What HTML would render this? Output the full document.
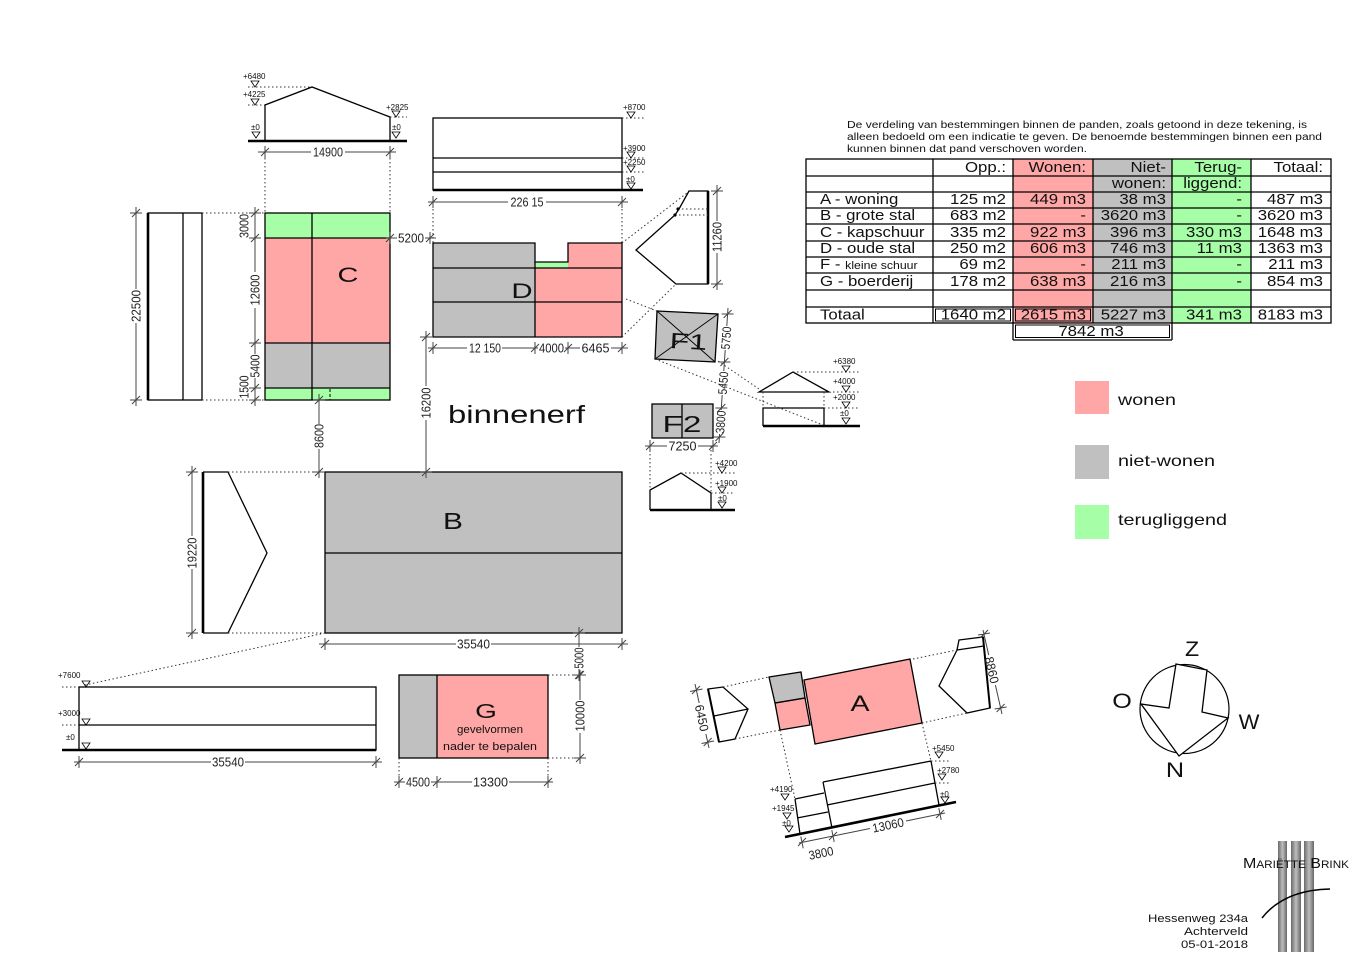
<!DOCTYPE html>
<html><head><meta charset="utf-8"><style>
html,body{margin:0;padding:0;background:#fff;}
svg{display:block;}
text{font-family:"Liberation Sans",Arial,sans-serif;}
.dm{font-size:12.5px;fill:#222;}
.lv{font-size:8px;fill:#111;}
.tb{font-size:15px;fill:#111;}
</style></head><body>
<svg width="1368" height="963" viewBox="0 0 1368 963" xmlns="http://www.w3.org/2000/svg">
<defs>
<linearGradient id="bar" x1="0" x2="1" y1="0" y2="0"><stop offset="0" stop-color="#6a6a6a"/><stop offset="0.5" stop-color="#bdbdbd"/><stop offset="1" stop-color="#666"/></linearGradient>
</defs>
<rect width="1368" height="963" fill="#fff"/>

<!-- ===== fills ===== -->
<!-- C plan -->
<rect x="265" y="213" width="125" height="25" fill="#a6ffa6"/>
<rect x="265" y="238" width="125" height="105" fill="#ffa6a6"/>
<rect x="265" y="343" width="125" height="45" fill="#c0c0c0"/>
<rect x="265" y="388" width="125" height="12" fill="#a6ffa6"/>
<!-- D plan -->
<rect x="433" y="243" width="102" height="94" fill="#c0c0c0"/>
<polygon points="535,262 568,262 568,243 622,243 622,337 535,337" fill="#ffa6a6"/>
<rect x="535" y="262" width="33" height="6" fill="#a6ffa6"/>
<!-- F1 F2 -->
<polygon points="657,311 718,314 715,362 655,359" fill="#c0c0c0"/>
<rect x="652" y="404" width="61" height="34" fill="#c0c0c0"/>
<!-- B -->
<rect x="325" y="472" width="297" height="161" fill="#c0c0c0"/>
<!-- G -->
<rect x="399" y="675" width="38" height="83" fill="#c0c0c0"/>
<rect x="437" y="675" width="111" height="83" fill="#ffa6a6"/>
<!-- A -->
<polygon points="804,680 910,659 922,723 815,744" fill="#ffa6a6"/>
<polygon points="769,677 801,672 805,698 775,703" fill="#c0c0c0"/>
<polygon points="775,703 805,698 810,725 780,730" fill="#ffa6a6"/>

<!-- ===== building outlines ===== -->
<g fill="none" stroke="#000" stroke-width="1.3">
<!-- C elevation -->
<polyline points="265,141 265,105 312,87 390,117 390,141"/>
<!-- C plan -->
<rect x="265" y="213" width="125" height="187"/>
<path d="M265,238H390M265,343H390M265,388H390M312,213V400"/>
<!-- C side -->
<rect x="148" y="213" width="54" height="187"/>
<path d="M183,213V400"/>
<!-- D elevation -->
<rect x="433" y="118" width="189" height="72"/>
<path d="M433,158H622M433,172H622"/>
<!-- D plan -->
<polygon points="433,243 535,243 535,262 568,262 568,243 622,243 622,337 433,337"/>
<path d="M433,268H622M433,302H622M535,262V337"/>
<!-- D side -->
<polygon points="689,191 679,209 675,215 636,250 676,284 708,284 708,191"/>
<!-- F1 -->
<polygon points="657,311 718,314 715,362 655,359"/>
<path d="M657,311L715,362M718,314L655,359" stroke-width="0.9"/>
<!-- F1 elevation -->
<polygon points="759,392 793,372 829,392"/>
<path d="M763,426V408H824V426"/>
<!-- F2 -->
<rect x="652" y="404" width="61" height="34"/>
<path d="M682,404V438"/>
<polyline points="650,510 650,490 681,473 711,493 711,510"/>
<!-- B -->
<rect x="325" y="472" width="297" height="161"/>
<path d="M325,553H622"/>
<polyline points="203,472 228,472 267,553 228,633 203,633"/>
<rect x="79" y="687" width="297" height="63"/>
<path d="M79,725H376"/>
<!-- G -->
<rect x="399" y="675" width="149" height="83"/>
<path d="M437,675V758"/>
<!-- A -->
<polygon points="804,680 910,659 922,723 815,744"/>
<polygon points="769,677 801,672 805,698 775,703"/>
<polygon points="775,703 805,698 810,725 780,730"/>
<polygon points="708,689 723,687 748,709 735,739 719,742"/>
<path d="M714,716L748,709"/>
<polygon points="959,640 983,637 990,708 967,713 939,686 957,650"/>
<path d="M957,650L984,646"/>
<!-- A elevation -->
<path d="M795,799L800,834M795,799L824,793M797,818L828,812M823,782L832,828M823,782L931,761M931,761L939,805M827,805L935,783"/>
</g>
<path d="M330,389V400" stroke="#000" stroke-width="1" stroke-dasharray="3,2"/>

<!-- thick lines -->
<g stroke="#000" stroke-width="2.6" fill="none">
<path d="M248,141H407"/>
<path d="M148,213V400"/>
<path d="M433,190H643"/>
<path d="M708,191V284"/>
<path d="M763,426H860"/>
<path d="M650,510H735"/>
<path d="M203,472V633"/>
<path d="M62,750H376"/>
<path d="M785,837L956,802"/>
<path d="M983,637L990,708" stroke-width="2"/>
<path d="M708,689L719,742" stroke-width="2"/>
</g>

<!-- ===== dotted lines ===== -->
<g fill="none" stroke="#333" stroke-width="1" stroke-dasharray="1.5,2.5">
<path d="M248,87H312M248,105H265M390,117H407"/>
<path d="M265,154V213M390,154V213"/>
<path d="M202,213H265M202,400H265"/>
<path d="M433,205V243M622,205V243"/>
<path d="M622,118H645M622,158H645M622,172H645"/>
<path d="M622,243L687,193M622,337L676,284M678,209H708M675,215H708"/>
<path d="M626,299L657,311M655,359L823,425M718,361L762,391"/>
<path d="M763,392V408M824,392V408M793,372H860M829,392H860M824,408H860"/>
<path d="M650,446V490M711,446V493M681,473H735M711,493H735"/>
<path d="M228,472H325M228,633H325M325,633L85,685"/>
<path d="M62,687H79M62,725H79"/>
<path d="M548,675H580M548,758H580M399,758V782M548,758V782"/>
<path d="M723,687L769,677M735,739L780,730M913,659L957,650M922,723L967,713M780,730L795,799M922,723L931,761"/>
<path d="M931,761H950M935,783H950"/>
</g>
<circle cx="678" cy="209" r="1.6" fill="#000"/>
<circle cx="675" cy="215" r="1.6" fill="#000"/>

<!-- ===== dimension lines ===== -->
<g fill="none" stroke="#444" stroke-width="1">
<path d="M258,152H311M345,152H396M265,146V158M261,156L269,148M390,146V158M386,156L394,148"/>
<path d="M255,207V272M255,308V354M255,378V406M249,213H261M251,217L259,209M249,238H261M251,242L259,234M249,343H261M251,347L259,339M249,388H261M251,392L259,384M249,400H261M251,404L259,396"/>
<path d="M386,238H397M425,238H436M390,232V244M386,242L394,234M430,232V244M426,242L434,234"/>
<path d="M136,207V289M136,323V406M130,213H142M132,217L140,209M130,400H142M132,404L140,396"/>
<path d="M319,394V424M319,449V478M313,400H325M315,404L323,396M313,472H325M315,476L323,468"/>
<path d="M426,331V386M426,420V478M420,337H432M422,341L430,333M420,472H432M422,476L430,468"/>
<path d="M428,202H508M546,202H628M433,196V208M429,206L437,198M622,196V208M618,206L626,198"/>
<path d="M428,348H467M502,348H538M565,348H580M611,348H628M433,342V354M429,352L437,344M535,342V354M531,352L539,344M568,342V354M564,352L572,344M622,342V354M618,352L626,344"/>
<path d="M717,185V221M717,253V290M711,191H723M713,195L721,187M711,284H723M713,288L721,280"/>
<path d="M728,308L726.8,326M725.2,350L723.8,371M722.2,395L721.2,410M719.6,434L719,443M721.6,314H733.6M723.6,318L731.6,310M718.4,362H730.4M720.4,366L728.4,358M715.3,408H727.3M717.3,412L725.3,404M713.4,437H725.4M715.4,441L723.4,433"/>
<path d="M645,446H667M698,446H718M650,440V452M646,450L654,442M713,440V452M709,450L717,442"/>
<path d="M192,466V536M192,569V639M186,472H198M188,476L196,468M186,633H198M188,637L196,629"/>
<path d="M319,644H456M491,644H628M325,638V650M321,648L329,640M622,638V650M618,648L626,640"/>
<path d="M579,627V647M579,669V681M573,633H585M575,637L583,629M573,675H585M575,679L583,671"/>
<path d="M74,762H211M245,762H382M79,756V768M75,766L83,758M376,756V768M372,766L380,758"/>
<path d="M580,670V700M580,733V764M574,675H586M576,679L584,671M574,758H586M576,762L584,754"/>
<path d="M394,782H405M431,782H472M509,782H553M399,776V788M395,786L403,778M437,776V788M433,786L441,778M548,776V788M544,786L552,778"/>
<path d="M695,684L699.2,703M705.9,734L709,748M690,691.5L702.5,689M692,694L700,686M701.5,743.5L714,741M703.7,746L711.7,738"/>
<path d="M983,630L988.7,655M995.4,685L1002,714M978,635L990,633M980,638L988,630M994.6,709L1006.6,707M996.6,712L1004.6,704"/>
<path d="M799,843L870,828.5M906,821L945,813M800.8,836.5L803.2,848.3M798,846L806,838M831.8,830.1L834.2,841.9M829,840L837,832M938.8,808.1L941.2,819.9M936,818L944,810"/>
</g>

<!-- ===== dimension texts ===== -->
<g class="dm" text-anchor="middle">
<text x="328" y="156.5" textLength="30" lengthAdjust="spacingAndGlyphs">14900</text>
<text transform="translate(244,226) rotate(-90)" dy="4.5" textLength="24" lengthAdjust="spacingAndGlyphs">3000</text>
<text transform="translate(255,290) rotate(-90)" dy="4.5" textLength="31" lengthAdjust="spacingAndGlyphs">12600</text>
<text transform="translate(255,366) rotate(-90)" dy="4.5" textLength="23" lengthAdjust="spacingAndGlyphs">5400</text>
<text transform="translate(244,387) rotate(-90)" dy="4.5" textLength="23" lengthAdjust="spacingAndGlyphs">1500</text>
<text x="411" y="242.5" textLength="26" lengthAdjust="spacingAndGlyphs">5200</text>
<text transform="translate(136,306) rotate(-90)" dy="4.5" textLength="32" lengthAdjust="spacingAndGlyphs">22500</text>
<text transform="translate(319,436) rotate(-90)" dy="4.5" textLength="24" lengthAdjust="spacingAndGlyphs">8600</text>
<text transform="translate(426,403) rotate(-90)" dy="4.5" textLength="31" lengthAdjust="spacingAndGlyphs">16200</text>
<text x="527" y="206.5" textLength="33" lengthAdjust="spacingAndGlyphs">226 15</text>
<text x="485" y="352.5" textLength="32" lengthAdjust="spacingAndGlyphs">12 150</text>
<text x="551.5" y="352.5" textLength="25" lengthAdjust="spacingAndGlyphs">4000</text>
<text x="595.5" y="352.5" textLength="28" lengthAdjust="spacingAndGlyphs">6465</text>
<text transform="translate(717,237) rotate(-90)" dy="4.5" textLength="30" lengthAdjust="spacingAndGlyphs">11260</text>
<text transform="translate(726,338) rotate(-86)" dy="4.5" textLength="23" lengthAdjust="spacingAndGlyphs">5750</text>
<text transform="translate(723,383) rotate(-86)" dy="4.5" textLength="23" lengthAdjust="spacingAndGlyphs">5450</text>
<text transform="translate(720.5,422) rotate(-86)" dy="4.5" textLength="23" lengthAdjust="spacingAndGlyphs">3800</text>
<text x="682.5" y="450.5" textLength="28" lengthAdjust="spacingAndGlyphs">7250</text>
<text transform="translate(192,553) rotate(-90)" dy="4.5" textLength="31" lengthAdjust="spacingAndGlyphs">19220</text>
<text x="473.5" y="648.5" textLength="33" lengthAdjust="spacingAndGlyphs">35540</text>
<text transform="translate(579,658) rotate(-90)" dy="4.5" textLength="21" lengthAdjust="spacingAndGlyphs">5000</text>
<text x="228" y="766.5" textLength="32" lengthAdjust="spacingAndGlyphs">35540</text>
<text transform="translate(580,716) rotate(-90)" dy="4.5" textLength="31" lengthAdjust="spacingAndGlyphs">10000</text>
<text x="418" y="786.5" textLength="24" lengthAdjust="spacingAndGlyphs">4500</text>
<text x="490.5" y="786.5" textLength="35" lengthAdjust="spacingAndGlyphs">13300</text>
<text transform="translate(702,718) rotate(78)" dy="4.5" textLength="27" lengthAdjust="spacingAndGlyphs">6450</text>
<text transform="translate(992,670) rotate(77)" dy="4.5" textLength="27" lengthAdjust="spacingAndGlyphs">8860</text>
<text transform="translate(821,853) rotate(-11.5)" dy="4.5" textLength="25" lengthAdjust="spacingAndGlyphs">3800</text>
<text transform="translate(888,825) rotate(-11.5)" dy="4.5" textLength="32" lengthAdjust="spacingAndGlyphs">13060</text>
</g>

<!-- ===== level markers ===== -->
<g fill="none" stroke="#000" stroke-width="0.8">
<path d="M251,81H259L255,87Z M251,99H259L255,105Z M252,132H260L256,138Z M392,132H400L396,138Z M392,111H400L396,117Z"/>
<path d="M627,112H635L631,118Z M627,152H635L631,158Z M627,166H635L631,172Z M627,183H635L631,189Z"/>
<path d="M842,366H850L846,372Z M842,386H850L846,392Z M842,402H850L846,408Z M842,418H850L846,424Z"/>
<path d="M718,467H726L722,473Z M718,487H726L722,493Z M718,502H726L722,508Z"/>
<path d="M82,681H90L86,687Z M82,719H90L86,725Z M82,743H90L86,749Z"/>
<path d="M781,794H789L785,800Z M783,813H791L787,819Z M785,826H793L789,832Z M935,752H943L939,758Z M938,774H946L942,780Z M941,797H949L945,803Z"/>
</g>
<g class="lv">
<text x="243" y="79">+6480</text><text x="243" y="97">+4225</text><text x="251" y="130">±0</text><text x="392" y="130">±0</text><text x="386" y="110">+2825</text>
<text x="623" y="110">+8700</text><text x="623" y="151">+3900</text><text x="623" y="165">+2250</text><text x="626" y="182">±0</text>
<text x="833" y="364">+6380</text><text x="833" y="384">+4000</text><text x="833" y="400">+2000</text><text x="840" y="416">±0</text>
<text x="715" y="466">+4200</text><text x="715" y="486">+1900</text><text x="718" y="501">±0</text>
<text x="58" y="678">+7600</text><text x="58" y="716">+3000</text><text x="66" y="740">±0</text>
<text x="770" y="792">+4190</text><text x="772" y="811">+1945</text><text x="782" y="826">±0</text>
<text x="932" y="751">+5450</text><text x="937" y="773">+2780</text><text x="940" y="797">±0</text>
</g>

<!-- ===== big labels ===== -->
<g fill="#111" text-anchor="middle">
<text transform="translate(348,282) scale(1.38,1)" font-size="21">C</text>
<text transform="translate(522,298) scale(1.4,1)" font-size="21">D</text>
<text transform="translate(688,349) rotate(3) scale(1.45,1)" font-size="22">F1</text>
<text transform="translate(682,432) scale(1.45,1)" font-size="23">F2</text>
<text transform="translate(453,529) scale(1.3,1)" font-size="23">B</text>
<text transform="translate(486,718) scale(1.4,1)" font-size="20">G</text>
<text transform="translate(860,711) scale(1.3,1)" font-size="22">A</text>
<text x="490" y="733" font-size="11" textLength="66" lengthAdjust="spacingAndGlyphs">gevelvormen</text>
<text x="490" y="750" font-size="11" textLength="94" lengthAdjust="spacingAndGlyphs">nader te bepalen</text>
</g>
<text x="448" y="423" font-size="25" fill="#111" textLength="137" lengthAdjust="spacingAndGlyphs">binnenerf</text>

<!-- ===== paragraph ===== -->
<g font-size="10" fill="#111">
<text x="847" y="128" textLength="460" lengthAdjust="spacingAndGlyphs">De verdeling van bestemmingen binnen de panden, zoals getoond in deze tekening, is</text>
<text x="847" y="140" textLength="475" lengthAdjust="spacingAndGlyphs">alleen bedoeld om een indicatie te geven. De benoemde bestemmingen binnen een pand</text>
<text x="847" y="152" textLength="240" lengthAdjust="spacingAndGlyphs">kunnen binnen dat pand verschoven worden.</text>
</g>

<!-- ===== table ===== -->
<rect x="1013" y="159" width="80" height="164" fill="#ffa6a6"/>
<rect x="1093" y="159" width="79" height="164" fill="#c0c0c0"/>
<rect x="1172" y="159" width="79" height="164" fill="#a6ffa6"/>
<g fill="none" stroke="#000" stroke-width="1.3">
<rect x="806" y="159" width="525" height="164"/>
<path d="M933,159V323M1013,159V340M1093,159V323M1172,159V340M1251,159V323"/>
<path d="M806,176H1331M806,192H1331M806,208H1331M806,224H1331M806,241H1331M806,257H1331M806,273H1331M806,290H1331M806,307H1331"/>
<path d="M1013,340H1172"/>
<rect x="935.5" y="309" width="75" height="12" stroke-width="1"/>
<rect x="1015.5" y="309" width="75" height="12" stroke-width="1"/>
<rect x="1015.5" y="325" width="154" height="12.5" stroke-width="1"/>
</g>
<g class="tb">
<g text-anchor="end">
<text transform="translate(1006,172) scale(1.12,1)">Opp.:</text>
<text transform="translate(1086,172) scale(1.12,1)">Wonen:</text>
<text transform="translate(1166,172) scale(1.12,1)">Niet-</text>
<text transform="translate(1242,172) scale(1.12,1)">Terug-</text>
<text transform="translate(1323,172) scale(1.12,1)">Totaal:</text>
<text transform="translate(1166,188) scale(1.12,1)">wonen:</text>
<text transform="translate(1242,188) scale(1.12,1)">liggend:</text>

<text transform="translate(1006,204) scale(1.12,1)">125 m2</text>
<text transform="translate(1086,204) scale(1.12,1)">449 m3</text>
<text transform="translate(1166,204) scale(1.12,1)">38 m3</text>
<text transform="translate(1242,204) scale(1.12,1)">-</text>
<text transform="translate(1323,204) scale(1.12,1)">487 m3</text>

<text transform="translate(1006,220) scale(1.12,1)">683 m2</text>
<text transform="translate(1086,220) scale(1.12,1)">-</text>
<text transform="translate(1166,220) scale(1.12,1)">3620 m3</text>
<text transform="translate(1242,220) scale(1.12,1)">-</text>
<text transform="translate(1323,220) scale(1.12,1)">3620 m3</text>

<text transform="translate(1006,237) scale(1.12,1)">335 m2</text>
<text transform="translate(1086,237) scale(1.12,1)">922 m3</text>
<text transform="translate(1166,237) scale(1.12,1)">396 m3</text>
<text transform="translate(1242,237) scale(1.12,1)">330 m3</text>
<text transform="translate(1323,237) scale(1.12,1)">1648 m3</text>

<text transform="translate(1006,253) scale(1.12,1)">250 m2</text>
<text transform="translate(1086,253) scale(1.12,1)">606 m3</text>
<text transform="translate(1166,253) scale(1.12,1)">746 m3</text>
<text transform="translate(1242,253) scale(1.12,1)">11 m3</text>
<text transform="translate(1323,253) scale(1.12,1)">1363 m3</text>

<text transform="translate(1006,269) scale(1.12,1)">69 m2</text>
<text transform="translate(1086,269) scale(1.12,1)">-</text>
<text transform="translate(1166,269) scale(1.12,1)">211 m3</text>
<text transform="translate(1242,269) scale(1.12,1)">-</text>
<text transform="translate(1323,269) scale(1.12,1)">211 m3</text>

<text transform="translate(1006,286) scale(1.12,1)">178 m2</text>
<text transform="translate(1086,286) scale(1.12,1)">638 m3</text>
<text transform="translate(1166,286) scale(1.12,1)">216 m3</text>
<text transform="translate(1242,286) scale(1.12,1)">-</text>
<text transform="translate(1323,286) scale(1.12,1)">854 m3</text>

<text transform="translate(1006,319.5) scale(1.12,1)">1640 m2</text>
<text transform="translate(1086,319.5) scale(1.12,1)">2615 m3</text>
<text transform="translate(1166,319.5) scale(1.12,1)">5227 m3</text>
<text transform="translate(1242,319.5) scale(1.12,1)">341 m3</text>
<text transform="translate(1323,319.5) scale(1.12,1)">8183 m3</text>
</g>
<text transform="translate(1091,336) scale(1.12,1)" text-anchor="middle">7842 m3</text>
<text transform="translate(820,204) scale(1.12,1)">A - woning</text>
<text transform="translate(820,220) scale(1.12,1)">B - grote stal</text>
<text transform="translate(820,237) scale(1.12,1)">C - kapschuur</text>
<text transform="translate(820,253) scale(1.12,1)">D - oude stal</text>
<text transform="translate(820,269) scale(1.12,1)">F - <tspan font-size="11">kleine schuur</tspan></text>
<text transform="translate(820,286) scale(1.12,1)">G - boerderij</text>
<text transform="translate(820,319.5) scale(1.12,1)">Totaal</text>
</g>

<!-- ===== legend ===== -->
<rect x="1075" y="381" width="34" height="33" fill="#ffa6a6"/>
<rect x="1075" y="445" width="34" height="34" fill="#c0c0c0"/>
<rect x="1075" y="505" width="34" height="34" fill="#a6ffa6"/>
<g font-size="16" fill="#111">
<text x="1118" y="405" textLength="58" lengthAdjust="spacingAndGlyphs">wonen</text>
<text x="1118" y="466" textLength="97" lengthAdjust="spacingAndGlyphs">niet-wonen</text>
<text x="1118" y="525" textLength="109" lengthAdjust="spacingAndGlyphs">terugliggend</text>
</g>

<!-- ===== compass ===== -->
<circle cx="1184.5" cy="709" r="44.5" fill="none" stroke="#000" stroke-width="1.2"/>
<polygon points="1176,664 1207,670 1202,712 1228,718 1179,756 1141,704 1169,708" fill="#fff" stroke="#000" stroke-width="1.3"/>
<g font-size="21" fill="#111" text-anchor="middle">
<text transform="translate(1192,656) scale(1.1,1)">Z</text>
<text transform="translate(1122,708) scale(1.2,1)">O</text>
<text transform="translate(1249,729) scale(1.05,1)">W</text>
<text transform="translate(1175,777) scale(1.2,1)">N</text>
</g>

<!-- ===== logo ===== -->
<rect x="1278" y="841" width="9" height="111" fill="url(#bar)"/>
<rect x="1291" y="841" width="10" height="111" fill="url(#bar)"/>
<rect x="1304" y="841" width="10" height="111" fill="url(#bar)"/>
<text x="1243" y="868" font-family="Liberation Serif, serif" font-size="15" font-variant="small-caps" fill="#111" textLength="106" lengthAdjust="spacingAndGlyphs">Mariëtte Brink</text>
<path d="M1262,918Q1284,890 1330,889" fill="none" stroke="#000" stroke-width="1.5"/>
<g font-size="11" fill="#111" text-anchor="end">
<text x="1248" y="922" textLength="100" lengthAdjust="spacingAndGlyphs">Hessenweg 234a</text>
<text x="1248" y="935" textLength="64" lengthAdjust="spacingAndGlyphs">Achterveld</text>
<text x="1248" y="948" textLength="67" lengthAdjust="spacingAndGlyphs">05-01-2018</text>
</g>
</svg>
</body></html>
